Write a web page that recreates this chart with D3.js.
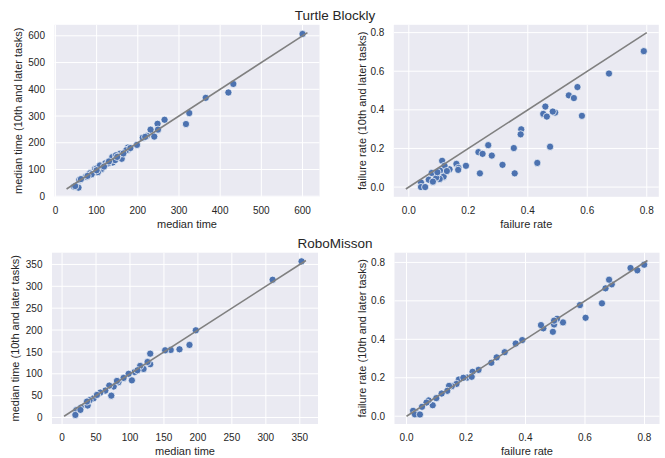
<!DOCTYPE html>
<html>
<head>
<meta charset="utf-8">
<script src="https://cdn.jsdelivr.net/npm/d3@7"></script>
<style>
    body { margin: 0; background: #fff; }
    text { font-family: "Liberation Sans", Arial, sans-serif; fill: #262626; }
</style>
</head>
<body>
<svg id="chart" width="665" height="458"></svg>
<script>
// Turtle Blockly - median time (all tasks vs 10th and later)
const tbTimeX = [600, 432, 420, 365, 325, 317, 265, 248, 249, 231, 240, 222, 212, 218, 198, 176, 176, 172, 161, 157,
    139, 138, 147, 145, 121, 128, 111, 112, 103, 96, 100, 108, 118, 84, 88, 74, 78, 58, 62, 56, 45, 48, 130, 150, 165, 182, 100];
const tbTimeY = [607, 420, 388, 368, 311, 270, 286, 271, 249, 249, 223, 226, 219, 222, 192, 182, 174, 172, 140, 159,
    126, 146, 153, 135, 123, 123, 108, 102, 90, 102, 104, 115, 111, 86, 82, 73, 76, 61, 64, 32, 36, 38, 130, 147, 160, 180, 97];
const tbTimeLine = [27, 612];

// Turtle Blockly - failure rate
const tbFailX = [0.790, 0.673, 0.567, 0.538, 0.555, 0.582, 0.492, 0.484, 0.459, 0.452, 0.464, 0.475, 0.432, 0.378, 0.376,
    0.353, 0.356, 0.315, 0.267, 0.279, 0.234, 0.248, 0.239, 0.192, 0.160, 0.167, 0.166, 0.137, 0.112, 0.120, 0.105, 0.117,
    0.104, 0.092, 0.077, 0.067, 0.081, 0.096, 0.041, 0.041, 0.055, 0.128];
const tbFailY = [0.704, 0.588, 0.518, 0.475, 0.461, 0.369, 0.386, 0.391, 0.417, 0.379, 0.365, 0.209, 0.125, 0.299, 0.273,
    0.202, 0.071, 0.115, 0.217, 0.163, 0.181, 0.172, 0.071, 0.110, 0.120, 0.099, 0.089, 0.092, 0.136, 0.110, 0.085, 0.054,
    0.042, 0.049, 0.073, 0.038, 0.028, 0.077, 0.023, 0.000, 0.000, 0.083];
const tbFailLine = [-0.01, 0.80];

// RoboMisson - median time
const rmTimeX = [352.6, 310, 196.9, 187.6, 172.9, 160, 151.8, 129.8, 129.8, 125.9, 120, 115, 106.8, 102.8, 98, 90.6, 83,
    76, 72.5, 69.5, 63.7, 56.3, 46.5, 40.6, 37.7, 27.9, 21, 19.6, 80.8, 36.7, 51.4, 111, 27];
const rmTimeY = [357, 315, 199.4, 166, 156, 154.5, 153.7, 146, 121.8, 127, 111, 118, 104, 85, 100, 90.6, 80.7,
    70.8, 50, 73, 61.6, 57, 44, 39.6, 27.4, 22.8, 16.7, 6, 83.7, 36.5, 51.7, 108, 17.5];
const rmTimeLine = [3, 359];

// RoboMisson - failure rate
const rmFailX = [0.799, 0.776, 0.753, 0.690, 0.681, 0.669, 0.657, 0.602, 0.583, 0.526, 0.506, 0.496, 0.496, 0.492, 0.460,
    0.452, 0.389, 0.367, 0.330, 0.303, 0.285, 0.242, 0.222, 0.204, 0.219, 0.176, 0.168, 0.152, 0.143, 0.137, 0.118, 0.100,
    0.088, 0.074, 0.067, 0.052, 0.036, 0.022, 0.028, 0.045, 0.191];
const rmFailY = [0.788, 0.759, 0.771, 0.686, 0.710, 0.665, 0.587, 0.512, 0.578, 0.488, 0.507, 0.477, 0.497, 0.439, 0.457,
    0.474, 0.396, 0.378, 0.333, 0.306, 0.278, 0.241, 0.231, 0.201, 0.205, 0.191, 0.168, 0.156, 0.158, 0.132, 0.118, 0.094,
    0.057, 0.082, 0.071, 0.049, 0.014, 0.028, 0.010, 0.009, 0.200];
const rmFailLine = [0, 0.81];

// tick labels
const tbTimeTicks = [0, 100, 200, 300, 400, 500, 600];
const rmTimeTicks = [0, 50, 100, 150, 200, 250, 300, 350];
const failTicks = [0.0, 0.2, 0.4, 0.6, 0.8];

const rowTitles = ['Turtle Blockly', 'RoboMisson'];
const timeLabel = 'median time';
const failLabel = 'failure rate';
const laterSuffix = ' (10th and later tasks)';

const svg = d3.select('#chart');

// pad the range by 5% like matplotlib's autoscale
function padded(range) {
    const m = (range[1] - range[0]) * 0.05;
    return [range[0] - m, range[1] + m];
}

function drawPanel(p) {
    const x = d3.scaleLinear().domain(padded(p.line)).range([p.left, p.right]);
    const y = d3.scaleLinear().domain(padded(p.line)).range([p.bottom, p.top]);
    const g = svg.append('g');

    g.append('rect')
        .attr('x', p.left).attr('y', p.top)
        .attr('width', p.right - p.left).attr('height', p.bottom - p.top)
        .attr('fill', '#eaeaf2');

    g.selectAll('.gx').data(p.ticks).enter().append('line')
        .attr('x1', d => x(d)).attr('x2', d => x(d))
        .attr('y1', p.top).attr('y2', p.bottom)
        .attr('stroke', '#fff').attr('stroke-width', 1);
    g.selectAll('.gy').data(p.ticks).enter().append('line')
        .attr('y1', d => y(d)).attr('y2', d => y(d))
        .attr('x1', p.left).attr('x2', p.right)
        .attr('stroke', '#fff').attr('stroke-width', 1);

    const fmt = p.fmt;
    g.selectAll('.tx').data(p.ticks).enter().append('text')
        .attr('x', d => x(d)).attr('y', p.bottom + 17)
        .attr('text-anchor', 'middle')
        .attr('font-size', 10)
        .text(fmt);
    g.selectAll('.ty').data(p.ticks).enter().append('text')
        .attr('x', p.left - 9.5).attr('y', d => y(d) + 3.6)
        .attr('text-anchor', 'end')
        .attr('font-size', 10)
        .text(fmt);

    g.append('text')
        .attr('x', (p.left + p.right) / 2).attr('y', p.bottom + 31)
        .attr('text-anchor', 'middle')
        .attr('font-size', 11)
        .text(p.label);
    g.append('text')
        .attr('transform', `translate(${p.ylabelX},${(p.top + p.bottom) / 2}) rotate(-90)`)
        .attr('text-anchor', 'middle')
        .attr('font-size', 11)
        .text(p.label + laterSuffix);

    g.selectAll('circle').data(d3.zip(p.xs, p.ys)).enter().append('circle')
        .attr('cx', d => x(d[0])).attr('cy', d => y(d[1]))
        .attr('r', 3.6)
        .attr('fill', '#4c72b0')
        .attr('stroke', '#fff').attr('stroke-width', 0.7);

    g.append('line')
        .attr('x1', x(p.line[0])).attr('y1', y(p.line[0]))
        .attr('x2', x(p.line[1])).attr('y2', y(p.line[1]))
        .attr('stroke', '#808080').attr('stroke-width', 1.6);
}

const fmtInt = d3.format('d');
const fmtFail = d3.format('.1f');

drawPanel({ xs: tbTimeX, ys: tbTimeY, line: tbTimeLine, ticks: tbTimeTicks, fmt: fmtInt, label: timeLabel,
    left: 54.5, right: 319.5, top: 24.8, bottom: 196.8, ylabelX: 22 });
drawPanel({ xs: tbFailX, ys: tbFailY, line: tbFailLine, ticks: failTicks, fmt: fmtFail, label: failLabel,
    left: 393.8, right: 658.8, top: 24.8, bottom: 196.8, ylabelX: 365.5 });
drawPanel({ xs: rmTimeX, ys: rmTimeY, line: rmTimeLine, ticks: rmTimeTicks, fmt: fmtInt, label: timeLabel,
    left: 52, right: 318, top: 252.7, bottom: 424, ylabelX: 18.5 });
drawPanel({ xs: rmFailX, ys: rmFailY, line: rmFailLine, ticks: failTicks, fmt: fmtFail, label: failLabel,
    left: 394.5, right: 659.5, top: 252.7, bottom: 424, ylabelX: 365.5 });

svg.selectAll('.row-title').data(rowTitles).enter().append('text')
    .attr('x', 335)
    .attr('y', (d, i) => i === 0 ? 19.5 : 247.5)
    .attr('text-anchor', 'middle')
    .attr('font-size', 13.5)
    .text(d => d);
</script>
</body>
</html>
